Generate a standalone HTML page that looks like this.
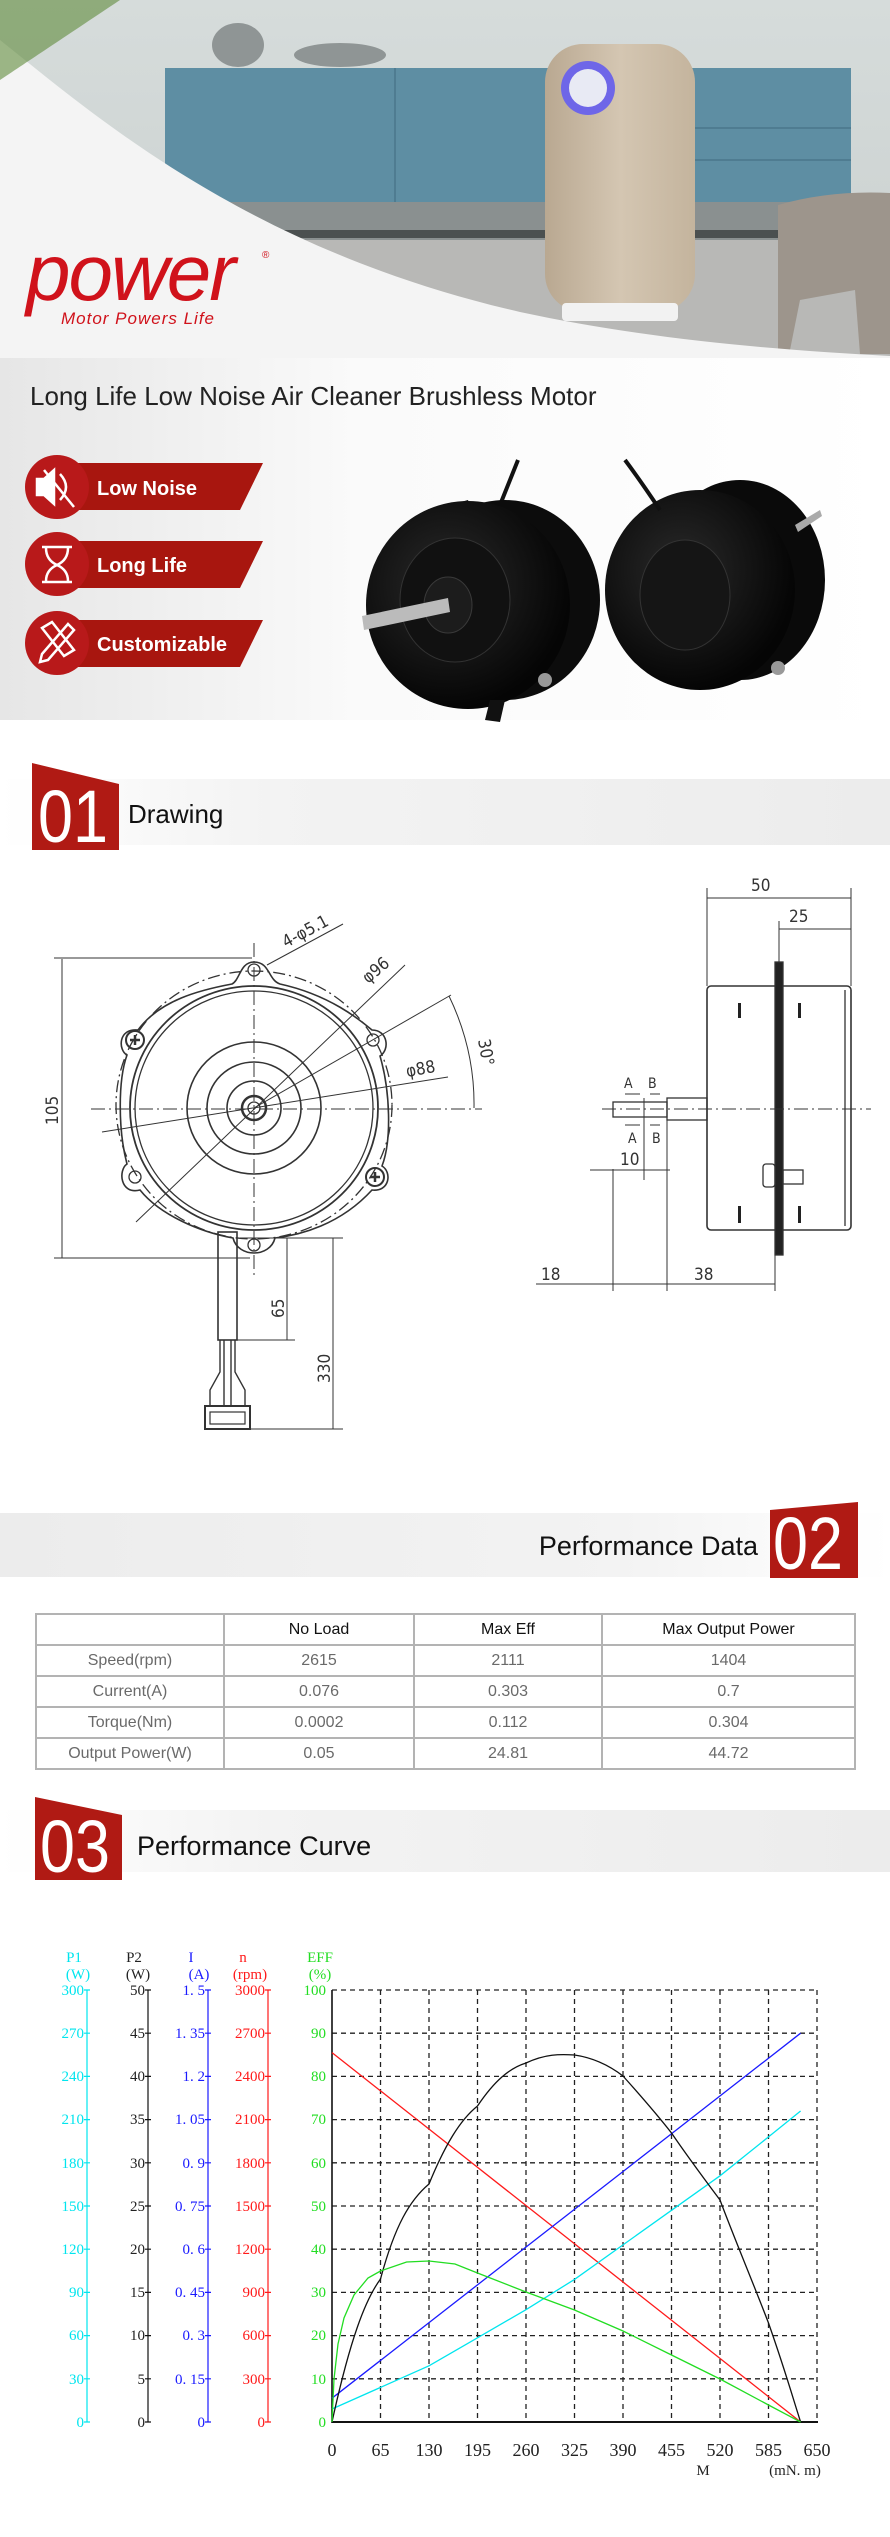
<!DOCTYPE html>
<html><head><meta charset="utf-8">
<style>
*{margin:0;padding:0;box-sizing:border-box}
body{width:890px;height:2537px;background:#fff;position:relative;overflow:hidden;font-family:"Liberation Sans",Arial,sans-serif}
.abs{position:absolute}
table{position:absolute;left:35px;top:1613px;width:821px;border-collapse:collapse}
td{border:2px solid #b3b3b3;height:31px;text-align:center;font-size:16px;color:#6a6a6a;padding:0}
tr:first-child td{color:#111}
</style></head><body>
<svg class="abs" style="left:0;top:0" width="890" height="2537" viewBox="0 0 890 2537" xmlns="http://www.w3.org/2000/svg">
<defs>
<linearGradient id="wall" x1="0" y1="0" x2="0" y2="1"><stop offset="0" stop-color="#d6dcdb"/><stop offset="1" stop-color="#c9cfce"/></linearGradient>
<linearGradient id="bg" x1="0" y1="0" x2="1" y2="0"><stop offset="0" stop-color="#e6e6e6"/><stop offset="0.4" stop-color="#fafafa"/><stop offset="1" stop-color="#ffffff"/></linearGradient>
<linearGradient id="band" x1="0" y1="0" x2="1" y2="0"><stop offset="0" stop-color="#ffffff"/><stop offset="0.3" stop-color="#f3f3f3"/><stop offset="1" stop-color="#ececec"/></linearGradient>
<linearGradient id="band2" x1="0" y1="0" x2="1" y2="0"><stop offset="0" stop-color="#ececec"/><stop offset="0.7" stop-color="#f3f3f3"/><stop offset="1" stop-color="#ffffff"/></linearGradient>
<linearGradient id="pur" x1="0" y1="0" x2="1" y2="0"><stop offset="0" stop-color="#b9a891"/><stop offset="0.5" stop-color="#d4c6b2"/><stop offset="1" stop-color="#c4b49d"/></linearGradient>
<radialGradient id="mot" cx="0.4" cy="0.4" r="0.6"><stop offset="0" stop-color="#2a2a2a"/><stop offset="1" stop-color="#050505"/></radialGradient>
</defs>
<rect x="0" y="0" width="890" height="360" fill="url(#wall)"/>
<rect x="165" y="68" width="686" height="134" fill="#5e8ea3"/>
<line x1="395" y1="68" x2="395" y2="202" stroke="#4a778b" stroke-width="1.5"/>
<line x1="695" y1="128" x2="851" y2="128" stroke="#4a778b" stroke-width="1.5"/>
<line x1="695" y1="160" x2="851" y2="160" stroke="#4a778b" stroke-width="1.5"/>
<rect x="165" y="202" width="686" height="42" fill="#8a9090"/>
<rect x="165" y="230" width="686" height="8" fill="#4b5050"/>
<ellipse cx="238" cy="45" rx="26" ry="22" fill="#8f9595"/>
<ellipse cx="340" cy="55" rx="46" ry="12" fill="#8f9595"/>
<rect x="0" y="240" width="890" height="120" fill="#b8b8b6"/>
<path d="M778 205 Q830 190 890 193 L890 354 L860 354 L855 290 L800 300 L790 350 L778 350 Z" fill="#9d958c"/>
<rect x="545" y="44" width="150" height="268" rx="38" fill="url(#pur)"/>
<rect x="562" y="303" width="116" height="18" rx="4" fill="#f2f2f2"/>
<circle cx="588" cy="88" r="27" fill="#6e66e8"/>
<circle cx="588" cy="88" r="19" fill="#e8eaf4"/>
<path d="M0 40 C100 120 250 250 520 312 C650 340 780 350 890 356 L890 360 L0 360 Z" fill="#f4f4f4"/>
<path d="M0 0 L0 80 C30 60 60 40 120 0 Z" fill="#5f8a3a" opacity="0.6"/>
<rect x="0" y="358" width="890" height="362" fill="url(#bg)"/>
<text x="26" y="300" font-family="Liberation Sans" font-style="italic" font-size="80" fill="#d0121b" letter-spacing="-2">power</text>
<text x="262" y="258" font-size="10" fill="#d0121b">®</text>
<text x="61" y="324" font-family="Liberation Sans" font-style="italic" font-size="17" fill="#d0121b" letter-spacing="1">Motor Powers Life</text>
<text x="30" y="405" font-size="26" fill="#222">Long Life Low Noise Air Cleaner Brushless Motor</text>
<g fill="#a8160f">
<path d="M40 463 L263 463 L240 510 L40 510 Z"/><circle cx="57" cy="487" r="32" fill="#b8191a"/>
<path d="M40 541 L263 541 L240 588 L40 588 Z"/><circle cx="57" cy="564" r="32" fill="#b8191a"/>
<path d="M40 620 L263 620 L240 667 L40 667 Z"/><circle cx="57" cy="643" r="32" fill="#b8191a"/>
</g>
<g fill="none" stroke="#fff" stroke-width="2.5">
<path d="M37 479 L44 479 L54 470 L54 504 L44 495 L37 495 Z" fill="#fff"/><path d="M60 474 Q72 487 60 500"/><line x1="44" y1="470" x2="74" y2="507"/>
<path d="M42 547 L72 547 M42 582 L72 582 M46 548 Q46 560 57 565 Q46 570 46 581 M68 548 Q68 560 57 565 Q68 570 68 581"/>
<path d="M42 628 L52 622 L74 650 L64 656 Z M68 624 L74 630 L48 660 L40 662 L42 654 Z"/>
</g>
<g font-weight="bold" font-size="20" fill="#fff">
<text x="97" y="495">Low Noise</text><text x="97" y="572">Long Life</text><text x="97" y="651">Customizable</text>
</g>
<path d="M445 530 L450 505 L468 500 L475 520 Z" fill="#111"/>
<path d="M500 505 Q510 480 518 460" stroke="#111" stroke-width="4" fill="none"/>
<ellipse cx="505" cy="600" rx="95" ry="100" fill="#0c0c0c"/>
<ellipse cx="468" cy="605" rx="102" ry="104" fill="url(#mot)"/>
<ellipse cx="455" cy="600" rx="55" ry="62" fill="#111" stroke="#333"/>
<ellipse cx="448" cy="605" rx="24" ry="28" fill="#1c1c1c" stroke="#3a3a3a"/>
<path d="M362 616 L448 598 L450 612 L364 630 Z" fill="#bbb"/>
<circle cx="545" cy="680" r="7" fill="#999"/>
<path d="M490 700 L485 720 L500 722 L505 700 Z" fill="#111"/>
<ellipse cx="740" cy="580" rx="85" ry="100" fill="#0a0a0a"/>
<ellipse cx="700" cy="590" rx="95" ry="100" fill="url(#mot)"/>
<ellipse cx="685" cy="595" rx="45" ry="55" fill="#151515" stroke="#333"/>
<path d="M795 525 L820 510 L822 516 L798 532 Z" fill="#aaa"/>
<circle cx="778" cy="668" r="7" fill="#999"/>
<path d="M660 510 Q640 480 625 460" stroke="#111" stroke-width="4" fill="none"/>
<rect x="0" y="779" width="890" height="66" fill="url(#band)"/>
<path d="M32 763 L119 784 L119 850 L32 850 Z" fill="#b01a14"/>
<text x="38" y="842" font-size="74" fill="#fff" transform="translate(38 0) scale(0.85 1) translate(-38 0)">01</text>
<text x="128" y="823" font-size="26" fill="#111">Drawing</text>
<g stroke="#333" fill="none" stroke-width="1.3">
<ellipse cx="254" cy="1105" rx="138" ry="134" stroke-dasharray="12 4 2 4"/>
<path d="M254 962 C270 962 268 980 280 984 C330 995 360 1020 372 1030 C388 1030 390 1050 380 1056 C390 1090 392 1140 382 1166 C392 1172 390 1192 372 1190 C340 1225 300 1235 275 1238 C270 1258 238 1258 233 1238 C200 1232 160 1215 140 1190 C120 1195 118 1170 127 1164 C118 1130 118 1080 127 1055 C118 1050 118 1028 138 1030 C160 1000 200 990 232 984 C240 980 240 962 254 962 Z" stroke-width="1.6"/>
<ellipse cx="254" cy="1108" rx="124" ry="122" stroke-width="1.8"/>
<ellipse cx="254" cy="1108" rx="119" ry="117"/>
<ellipse cx="254" cy="1108" rx="67" ry="66" stroke-width="1.6"/>
<ellipse cx="254" cy="1108" rx="47" ry="46" stroke-width="1.6"/>
<ellipse cx="254" cy="1108" rx="27" ry="27" stroke-width="1.6"/>
<circle cx="254" cy="1108" r="12" stroke-width="2.5"/>
<circle cx="254" cy="1108" r="6"/>
<circle cx="254" cy="970" r="6"/><circle cx="373" cy="1040" r="6"/><circle cx="135" cy="1177" r="6"/><circle cx="254" cy="1245" r="6"/>
<circle cx="135" cy="1040" r="9" stroke-width="2"/><path d="M130 1040 h10 M135 1035 v10" stroke-width="2.5"/>
<circle cx="375" cy="1177" r="9" stroke-width="2"/><path d="M370 1177 h10 M375 1172 v10" stroke-width="2.5"/>
<line x1="91" y1="1109" x2="482" y2="1109" stroke-dasharray="14 4 2 4" stroke-width="1"/>
<line x1="254" y1="943" x2="254" y2="1276" stroke-dasharray="14 4 2 4" stroke-width="1"/>
<line x1="54" y1="958" x2="252" y2="958" stroke-width="1"/>
<line x1="54" y1="1258" x2="250" y2="1258" stroke-width="1"/>
<line x1="62" y1="959" x2="62" y2="1258" stroke-width="1"/>
<line x1="267" y1="965" x2="343" y2="924" stroke-width="1"/>
<line x1="136" y1="1222" x2="405" y2="965" stroke-width="1"/>
<line x1="102" y1="1132" x2="448" y2="1077" stroke-width="1"/>
<line x1="254" y1="1108" x2="451" y2="995" stroke-width="1"/>
<path d="M449 996 Q475 1050 474 1108" stroke-width="1"/>
<rect x="218" y="1232" width="19" height="108" stroke-width="1.6"/>
<path d="M220 1340 L220 1372 L210 1390 L210 1406 M235 1340 L235 1372 L245 1390 L245 1406 M224 1340 V1406 M231 1340 V1406" stroke-width="1.4"/>
<rect x="205" y="1406" width="45" height="23" stroke-width="2"/>
<rect x="210" y="1412" width="35" height="12" stroke-width="1.2"/>
<line x1="240" y1="1238" x2="343" y2="1238" stroke-width="1"/>
<line x1="237" y1="1340" x2="295" y2="1340" stroke-width="1"/>
<line x1="250" y1="1429" x2="343" y2="1429" stroke-width="1"/>
<line x1="287" y1="1238" x2="287" y2="1340" stroke-width="1"/>
<line x1="333" y1="1238" x2="333" y2="1429" stroke-width="1"/>
</g>
<g font-size="17" fill="#333" font-family="DejaVu Sans Condensed,Liberation Sans,sans-serif">
<text transform="translate(58 1125) rotate(-90)">105</text>
<text transform="translate(284 1318) rotate(-90)">65</text>
<text transform="translate(330 1383) rotate(-90)">330</text>
<text transform="translate(286 948) rotate(-28)">4-φ5.1</text>
<text transform="translate(368 984) rotate(-40)">φ96</text>
<text transform="translate(407 1077) rotate(-10)">φ88</text>
<text transform="translate(478 1040) rotate(80)">30°</text>
</g>
<g stroke="#333" fill="none" stroke-width="1.3">
<rect x="707" y="986" width="144" height="244" rx="4" stroke-width="1.6"/>
<line x1="845" y1="990" x2="845" y2="1226"/>
<rect x="775" y="962" width="8" height="293" fill="#222"/>
<rect x="667" y="1098" width="40" height="22"/>
<rect x="613" y="1102" width="54" height="15"/>
<line x1="602" y1="1109" x2="871" y2="1109" stroke-dasharray="14 4 2 4" stroke-width="1"/>
<rect x="763" y="1164" width="12" height="23" rx="3"/><rect x="783" y="1170" width="20" height="14"/>
<line x1="707" y1="888" x2="707" y2="986" stroke-width="1"/><line x1="851" y1="888" x2="851" y2="986" stroke-width="1"/>
<line x1="707" y1="898" x2="851" y2="898" stroke-width="1"/>
<line x1="779" y1="921" x2="779" y2="962" stroke-width="1"/>
<line x1="779" y1="929" x2="851" y2="929" stroke-width="1"/>
<line x1="536" y1="1284" x2="775" y2="1284" stroke-width="1"/>
<line x1="613" y1="1169" x2="613" y2="1291" stroke-width="1"/>
<line x1="667" y1="1120" x2="667" y2="1291" stroke-width="1"/>
<line x1="775" y1="1255" x2="775" y2="1291" stroke-width="1"/>
<line x1="644" y1="1098" x2="644" y2="1180" stroke-width="1"/>
<line x1="590" y1="1170" x2="670" y2="1170" stroke-width="1"/>
<line x1="625" y1="1094" x2="640" y2="1094" stroke-width="1"/><line x1="650" y1="1094" x2="660" y2="1094" stroke-width="1"/>
<line x1="625" y1="1125" x2="640" y2="1125" stroke-width="1"/><line x1="650" y1="1125" x2="660" y2="1125" stroke-width="1"/>
</g>
<g fill="#222"><rect x="738" y="1003" width="3" height="15"/><rect x="798" y="1003" width="3" height="15"/><rect x="738" y="1206" width="3" height="17"/><rect x="798" y="1206" width="3" height="17"/></g>
<g font-size="17" fill="#333" font-family="DejaVu Sans Condensed,Liberation Sans,sans-serif">
<text x="751" y="891">50</text><text x="789" y="922">25</text>
<text x="541" y="1280">18</text><text x="694" y="1280">38</text>
<text x="620" y="1165">10</text>
<text x="624" y="1088" font-size="14">A</text><text x="648" y="1088" font-size="14">B</text>
<text x="628" y="1143" font-size="14">A</text><text x="652" y="1143" font-size="14">B</text>
</g>
<rect x="0" y="1513" width="890" height="64" fill="url(#band2)"/>
<path d="M770 1510 L858 1502 L858 1578 L770 1578 Z" fill="#b01a14"/>
<text x="773" y="1569" font-size="74" fill="#fff" transform="translate(773 0) scale(0.85 1) translate(-773 0)">02</text>
<text x="758" y="1555" font-size="27" fill="#111" text-anchor="end">Performance Data</text>
<rect x="0" y="1810" width="890" height="62" fill="url(#band)"/>
<path d="M35 1797 L122 1815 L122 1880 L35 1880 Z" fill="#b01a14"/>
<text x="40" y="1872" font-size="74" fill="#fff" transform="translate(40 0) scale(0.85 1) translate(-40 0)">03</text>
<text x="137" y="1855" font-size="27" fill="#111">Performance Curve</text>
<g stroke="#222" stroke-width="1.3" stroke-dasharray="5 4" fill="none">
<path d="M380.5 1990V2422M429 1990V2422M477.5 1990V2422M526 1990V2422M574.5 1990V2422M623 1990V2422M671.5 1990V2422M720 1990V2422M768.5 1990V2422M817 1990V2422"/>
<path d="M332 1990H817M332 2033.2H817M332 2076.4H817M332 2119.6H817M332 2162.8H817M332 2206H817M332 2249.2H817M332 2292.4H817M332 2335.6H817M332 2378.8H817"/>
</g>
<line x1="332" y1="1990" x2="332" y2="2423" stroke="#111" stroke-width="1.6"/>
<line x1="332" y1="2422" x2="818" y2="2422" stroke="#111" stroke-width="2"/>
<line x1="87" y1="1990" x2="87" y2="2422" stroke="#00e5ee" stroke-width="1.2"/>
<line x1="148" y1="1990" x2="148" y2="2422" stroke="#111" stroke-width="1.2"/>
<line x1="208" y1="1990" x2="208" y2="2422" stroke="#1a1aff" stroke-width="1.2"/>
<line x1="268" y1="1990" x2="268" y2="2422" stroke="#ff1a1a" stroke-width="1.2"/>
<g stroke-width="1.2">
<path stroke="#00e5ee" d="M84 1990h6M84 2033.2h6M84 2076.4h6M84 2119.6h6M84 2162.8h6M84 2206h6M84 2249.2h6M84 2292.4h6M84 2335.6h6M84 2378.8h6M84 2422h6"/>
<path stroke="#111" d="M145 1990h6M145 2033.2h6M145 2076.4h6M145 2119.6h6M145 2162.8h6M145 2206h6M145 2249.2h6M145 2292.4h6M145 2335.6h6M145 2378.8h6M145 2422h6"/>
<path stroke="#1a1aff" d="M205 1990h6M205 2033.2h6M205 2076.4h6M205 2119.6h6M205 2162.8h6M205 2206h6M205 2249.2h6M205 2292.4h6M205 2335.6h6M205 2378.8h6M205 2422h6"/>
<path stroke="#ff1a1a" d="M265 1990h6M265 2033.2h6M265 2076.4h6M265 2119.6h6M265 2162.8h6M265 2206h6M265 2249.2h6M265 2292.4h6M265 2335.6h6M265 2378.8h6M265 2422h6"/>
</g>
<g font-family="Liberation Serif,serif" font-size="15" text-anchor="end">
<g fill="#00e5ee"><text x="84" y="1995">300</text><text x="84" y="2038">270</text><text x="84" y="2081">240</text><text x="84" y="2124">210</text><text x="84" y="2168">180</text><text x="84" y="2211">150</text><text x="84" y="2254">120</text><text x="84" y="2297">90</text><text x="84" y="2340">60</text><text x="84" y="2384">30</text><text x="84" y="2427">0</text></g>
<g fill="#222"><text x="145" y="1995">50</text><text x="145" y="2038">45</text><text x="145" y="2081">40</text><text x="145" y="2124">35</text><text x="145" y="2168">30</text><text x="145" y="2211">25</text><text x="145" y="2254">20</text><text x="145" y="2297">15</text><text x="145" y="2340">10</text><text x="145" y="2384">5</text><text x="145" y="2427">0</text></g>
<g fill="#1a1aff"><text x="205" y="1995">1. 5</text><text x="205" y="2038">1. 35</text><text x="205" y="2081">1. 2</text><text x="205" y="2124">1. 05</text><text x="205" y="2168">0. 9</text><text x="205" y="2211">0. 75</text><text x="205" y="2254">0. 6</text><text x="205" y="2297">0. 45</text><text x="205" y="2340">0. 3</text><text x="205" y="2384">0. 15</text><text x="205" y="2427">0</text></g>
<g fill="#ff1a1a"><text x="265" y="1995">3000</text><text x="265" y="2038">2700</text><text x="265" y="2081">2400</text><text x="265" y="2124">2100</text><text x="265" y="2168">1800</text><text x="265" y="2211">1500</text><text x="265" y="2254">1200</text><text x="265" y="2297">900</text><text x="265" y="2340">600</text><text x="265" y="2384">300</text><text x="265" y="2427">0</text></g>
<g fill="#22dd22"><text x="326" y="1995">100</text><text x="326" y="2038">90</text><text x="326" y="2081">80</text><text x="326" y="2124">70</text><text x="326" y="2168">60</text><text x="326" y="2211">50</text><text x="326" y="2254">40</text><text x="326" y="2297">30</text><text x="326" y="2340">20</text><text x="326" y="2384">10</text><text x="326" y="2427">0</text></g>
</g>
<g font-family="Liberation Serif,serif" font-size="15" text-anchor="middle">
<text x="74" y="1962" fill="#00e5ee">P1</text><text x="78" y="1979" fill="#00e5ee">(W)</text>
<text x="134" y="1962" fill="#222">P2</text><text x="138" y="1979" fill="#222">(W)</text>
<text x="191" y="1962" fill="#1a1aff">I</text><text x="199" y="1979" fill="#1a1aff">(A)</text>
<text x="243" y="1962" fill="#ff1a1a">n</text><text x="250" y="1979" fill="#ff1a1a">(rpm)</text>
<text x="320" y="1962" fill="#22dd22">EFF</text><text x="320" y="1979" fill="#22dd22">(%)</text>
</g>
<g font-family="Liberation Serif,serif" font-size="18" text-anchor="middle" fill="#222">
<text x="332" y="2456">0</text><text x="380.5" y="2456">65</text><text x="429" y="2456">130</text><text x="477.5" y="2456">195</text><text x="526" y="2456">260</text><text x="574.5" y="2456">325</text><text x="623" y="2456">390</text><text x="671.5" y="2456">455</text><text x="720" y="2456">520</text><text x="768.5" y="2456">585</text><text x="817" y="2456">650</text>
<text x="703" y="2475" font-size="15">M</text><text x="795" y="2475" font-size="15">(mN. m)</text>
</g>
<g fill="none" stroke-width="1.3">
<line x1="332" y1="2052.6" x2="800.6" y2="2422" stroke="#ff1a1a"/>
<line x1="332" y1="2398.2" x2="800.6" y2="2033.2" stroke="#1a1aff"/>
<polyline stroke="#00e5ee" points="332,2409 429,2365.8 477.5,2337.8 526,2309.7 574.5,2279.4 623,2244.9 671.5,2210.3 720,2175.8 768.5,2136.9 800.6,2111"/>
<path stroke="#111" d="M332 2422 C350 2340 365 2300 380.5 2279 C395 2225 410 2200 429 2184 C445 2145 460 2120 477.5 2106 C495 2080 510 2068 526 2063 C545 2054 560 2054 574.5 2055 C595 2058 610 2066 623 2076 C640 2095 655 2112 671.5 2133 C690 2160 705 2180 720 2200 C735 2240 752 2280 768.5 2323 C785 2370 792 2395 800.6 2422"/>
<polyline stroke="#22dd22" points="332,2422 334,2379 338,2344 344,2318 354,2295 368,2278 380.5,2271 406.6,2262 429,2261 455,2264 477.5,2273 526,2292 574.5,2310 623,2331 671.5,2355 720,2379 768.5,2405 800.6,2422"/>
</g>
</svg>
<table>
<tr><td style="width:188px"></td><td style="width:190px">No Load</td><td style="width:188px">Max Eff</td><td>Max Output Power</td></tr>
<tr><td>Speed(rpm)</td><td>2615</td><td>2111</td><td>1404</td></tr>
<tr><td>Current(A)</td><td>0.076</td><td>0.303</td><td>0.7</td></tr>
<tr><td>Torque(Nm)</td><td>0.0002</td><td>0.112</td><td>0.304</td></tr>
<tr><td>Output Power(W)</td><td>0.05</td><td>24.81</td><td>44.72</td></tr>
</table>
</body></html>
